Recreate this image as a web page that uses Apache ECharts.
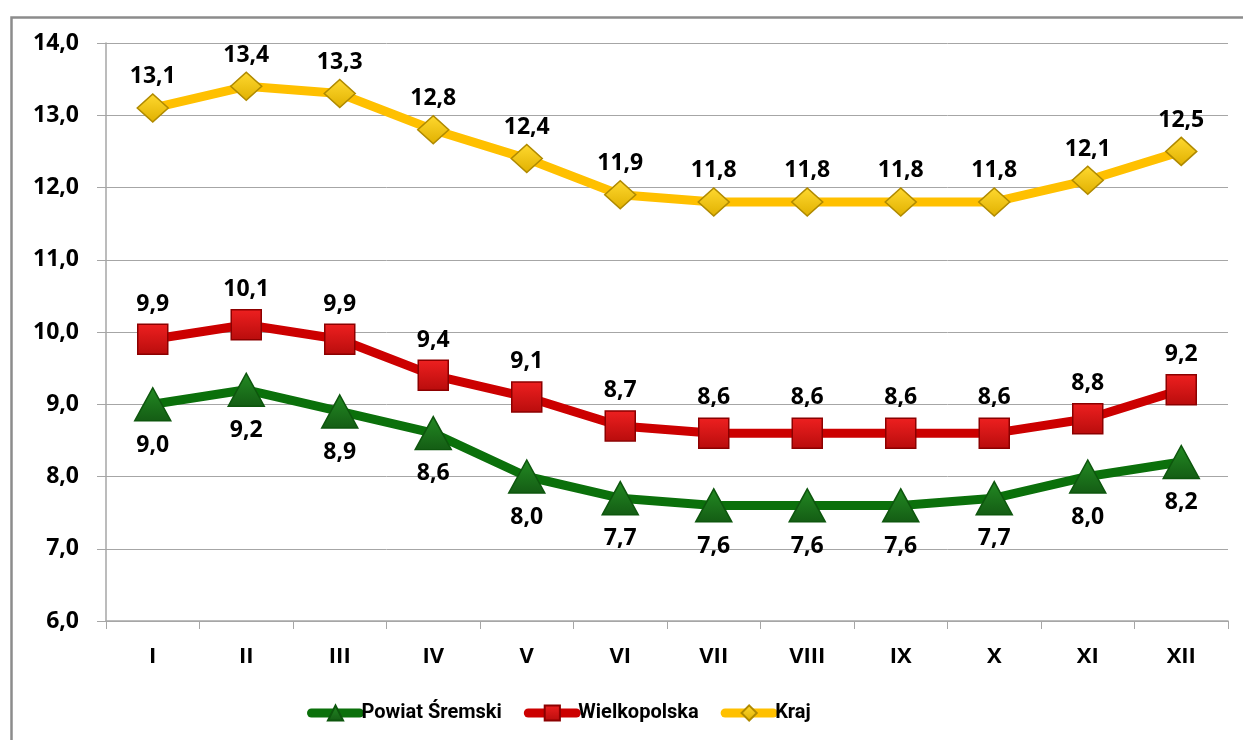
<!DOCTYPE html>
<html>
<head>
<meta charset="utf-8">
<script src="https://cdn.jsdelivr.net/npm/echarts@6/dist/echarts.min.js"></script>
<style>
  html, body { margin: 0; padding: 0; background: #fff; }
  #chart { width: 1243px; height: 740px; }
</style>
</head>
<body>
<div id="chart"></div>
<script>
const months = ['I', 'II', 'III', 'IV', 'V', 'VI', 'VII', 'VIII', 'IX', 'X', 'XI', 'XII'];
const powiat = [9.0, 9.2, 8.9, 8.6, 8.0, 7.7, 7.6, 7.6, 7.6, 7.7, 8.0, 8.2];
const wielkopolska = [9.9, 10.1, 9.9, 9.4, 9.1, 8.7, 8.6, 8.6, 8.6, 8.6, 8.8, 9.2];
const kraj = [13.1, 13.4, 13.3, 12.8, 12.4, 11.9, 11.8, 11.8, 11.8, 11.8, 12.1, 12.5];

const chart = echarts.init(document.getElementById('chart'));
const fmt = v => v.toFixed(1).replace('.', ',');
const font = '"Open Sans", sans-serif';

function labelStyle(pos, dist) {
    return {
        show: true,
        position: pos,
        distance: dist,
        fontFamily: font,
        fontWeight: 'bold',
        fontSize: 23,
        color: '#000',
        formatter: p => fmt(p.value)
    };
}

// vertical gradient for the marker fill, a bit lighter on top
function shade(top, bottom) {
    return new echarts.graphic.LinearGradient(0, 0, 0, 1, [
        { offset: 0, color: top },
        { offset: 1, color: bottom }
    ]);
}

option = {
    backgroundColor: '#fff',
    animation: false,
    graphic: [{
        type: 'rect',
        left: 9, top: 15,
        shape: { width: 1300, height: 800 },
        style: { fill: 'none', stroke: '#8c8c8c', lineWidth: 2.5 },
        silent: true
    }],
    grid: {
        left: 106,
        right: 15,
        top: 43,
        bottom: 119
    },
    legend: {
        bottom: 12,
        left: 302,
        itemWidth: 48,
        itemHeight: 19,
        itemGap: 22,
        lineStyle: { width: 9, cap: 'round' },
        textStyle: {
            fontFamily: '"Liberation Sans Narrow", "Roboto", sans-serif',
            fontWeight: 'bold',
            fontSize: 20,
            color: '#000',
            padding: [0, 0, 0, -3]
        },
        data: ['Powiat Śremski', 'Wielkopolska', 'Kraj']
    },
    xAxis: {
        type: 'category',
        data: months,
        boundaryGap: true,
        axisLine: { lineStyle: { color: '#a6a6a6', width: 1.5 } },
        axisTick: { show: true, length: 8, lineStyle: { color: '#a6a6a6' } },
        axisLabel: {
            margin: 25,
            fontFamily: font,
            fontWeight: 'bold',
            fontSize: 22,
            color: '#000'
        }
    },
    yAxis: {
        type: 'value',
        min: 6,
        max: 14,
        interval: 1,
        axisLine: { show: true, lineStyle: { color: '#a6a6a6', width: 1.5 } },
        axisTick: { show: true, length: 9, lineStyle: { color: '#a6a6a6' } },
        splitLine: { lineStyle: { color: '#a6a6a6', width: 1 } },
        axisLabel: {
            margin: 27,
            fontFamily: font,
            fontWeight: 'bold',
            fontSize: 23,
            color: '#000',
            formatter: v => fmt(v)
        }
    },
    series: [
        {
            name: 'Powiat Śremski',
            type: 'line',
            data: powiat,
            symbol: 'triangle',
            symbolSize: [36, 33],
            lineStyle: { color: '#0b700b', width: 9 },
            itemStyle: { color: shade('#238a23', '#145c14'), borderColor: '#0d560d', borderWidth: 1.5 },
            label: labelStyle('bottom', 12),
            z: 3
        },
        {
            name: 'Wielkopolska',
            type: 'line',
            data: wielkopolska,
            symbol: 'rect',
            symbolSize: 30,
            lineStyle: { color: '#cc0000', width: 9 },
            itemStyle: { color: shade('#ee2020', '#b80c0c'), borderColor: '#8c0000', borderWidth: 1.5 },
            label: labelStyle('top', 8),
            z: 4
        },
        {
            name: 'Kraj',
            type: 'line',
            data: kraj,
            symbol: 'diamond',
            symbolSize: [31, 28],
            lineStyle: { color: '#ffc000', width: 9 },
            itemStyle: { color: shade('#ffd930', '#e0b000'), borderColor: '#b08a00', borderWidth: 1.5 },
            label: labelStyle('top', 5),
            z: 5
        }
    ]
};

chart.setOption(option);

window.onresize = function () {
    chart.resize();
};
</script>
</body>
</html>
